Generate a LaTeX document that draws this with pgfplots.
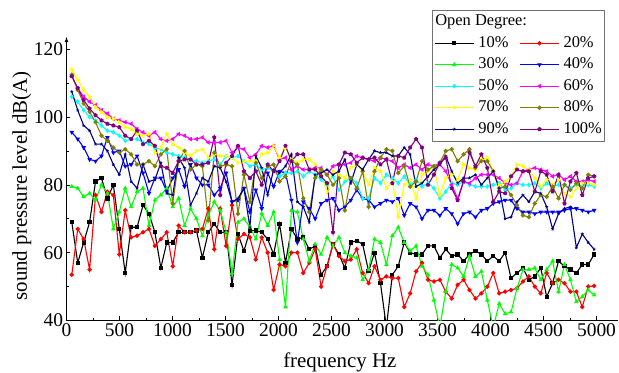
\documentclass[border=0pt]{standalone}
\usepackage{fontspec}
\setmainfont{Liberation Serif}
\usepackage{pgfplots}
\usepackage{pgfplotstable}
\pgfplotsset{compat=1.18}
\definecolor{c10}{RGB}{0,0,0}
\definecolor{c20}{RGB}{255,0,0}
\definecolor{c30}{RGB}{0,255,0}
\definecolor{c40}{RGB}{0,0,255}
\definecolor{c50}{RGB}{0,255,255}
\definecolor{c60}{RGB}{255,0,255}
\definecolor{c70}{RGB}{255,255,0}
\definecolor{c80}{RGB}{128,128,0}
\definecolor{c90}{RGB}{0,0,128}
\definecolor{c100}{RGB}{128,0,128}
\pgfplotstableread[header=false]{
f 50 106 162 218 274 330 386 442 498 554 610 666 722 778 834 890 946 1002 1058 1114 1170 1226 1282 1338 1394 1450 1506 1562 1618 1674 1730 1786 1842 1898 1954 2010 2066 2122 2178 2234 2290 2346 2402 2458 2514 2570 2626 2682 2738 2794 2850 2906 2962 3018 3074 3130 3186 3242 3298 3354 3410 3466 3522 3578 3634 3690 3746 3802 3858 3914 3970 4026 4082 4138 4194 4250 4306 4362 4418 4474 4530 4586 4642 4698 4754 4810 4866 4922 4978
s10 69 57 63 69 81 82 76 80 67 54 67.5 67.5 74 71.5 66 55.5 63 63 66 66 66 66.5 58.5 66 68.5 66 66 50.5 65.5 60.5 66.5 66.5 66 64 59.5 68.5 57 67 64 64.5 61 62 53.5 56 62.5 59.5 55.5 63 63.5 62.5 54.5 60 51 38 53.5 56 63 60 59.5 59.5 62 62 58.5 61 59 59.5 57.5 59.5 60.5 59.5 57.5 59 57.5 60 52.5 54 55.5 52 53 55.5 47 51 57.5 56 55 54 56.5 56.5 59.5
s20 53.5 67 64 55 77 72 78 77 59.5 72.5 64.5 65 66 67 62 64 66 56 68 66 66 66.5 67 73 61 73 62 74 64 65.5 64.5 58 64.5 60 49 56.5 56 60 60 54 57 61 50 56 62.5 59 57.5 58 61 54 51 56 52 53 52.5 52.5 44 48 54.5 57 52 51.5 52 48.5 46.5 50.5 52 49 46.5 48 50 54 48 48.5 49 49.5 51.5 53 50 48 54 51 52 51 48.5 48.5 44 50 50.2
s30 79.5 79 76.5 77.5 75.5 80 77.5 67 72 79 73.5 78 79 68 75.5 77 79 73.5 76 68 73 70 65 71 75 72.5 66 54 69 70 67.5 64 71.5 68 72 58 44 72.5 72 64 57.5 62.5 59.5 64.5 62 64.5 60 59 58.5 52 55 64 63 56.5 65 67.5 63 60.5 62 56 53.5 46 38 48.5 56.5 55.5 53 59 53 54.5 46 38 45 42 42.5 49.5 55 55 55.5 52 55 57.5 48.5 56.5 52 45.5 47 49 47.5
s40 95.5 93.5 91 87.5 87 88.5 94 89.5 90 85.5 86 88.5 83.5 77.5 82 82 78 82 84.5 79.5 86 82 80 80 77 79 83.5 75 75.5 79 72 78.5 73 83.5 79.5 84 83.5 75.5 63 75 73 70 74.5 75.5 76 72.5 73.5 75.5 78.5 76 75.5 73.5 74.5 75.5 75 76 71 74.5 73.5 70 72.5 72.5 71 73 71.5 68.5 71.5 72 70.5 72.5 73 74.5 75 75.5 75.5 73 72 72 71.5 72 72 72 72 72.5 73 73 72.5 72 72.5
s50 106 104.5 102 100 99 97.5 96 95.5 94.5 93 93.5 93.5 92.5 92 91 90.5 89.5 89 88.5 88 87.5 87 86.5 87 87.5 86 88.5 88 88.5 87 85.5 86 84.5 85 84 82.5 83.5 83.5 84 82.5 84 83 81.5 80 82.5 78.5 81 82 80.5 76 76 82 80.5 83 82 80.5 82.5 80 81.5 79.5 80.5 79 76 78 80.5 80 81 80 79.5 79.5 79.5 80 80.5 78.5 79 80.5 80 80 80.5 79 80.5 79.5 80 80 79 80 79.5 80 79.5
s60 112 108.5 106 104.5 103.5 102 101 99.5 99 98.5 98 96.5 95.5 94.5 95.5 93.5 93 93.5 95 94.5 93.5 93.5 94 92.5 92.5 92.5 93 89.5 91 90.5 88 89 91.5 91 91.5 87.5 88 84.5 85.5 84.5 84.5 85 85 83 85.5 86 86 86.5 88.5 88 87.5 87 88 87.5 87 85 86 85 86 84.5 86 85.5 86 84 80 76 81 80.5 82 83 83 83 82 80.5 80 80.5 84 84.5 85 84.5 84 82.5 83 81.5 82.5 81 81 81.5 81
s70 114 111 108 106 103 101.5 100 99.5 98.5 97 96.5 95 94.5 95 89.5 91 95 92 91 89.5 88.5 90 90.5 88 89 88.5 88.5 88 86.5 87 87 87 89 89.5 91.5 88 91 87.5 86.5 87.5 87.5 86 83 78 84 83 82 85 86 84 80 85 84 79 81 70.5 80 81.5 76 83 84 85.5 77 82 83 81.5 86 85 84.5 87.5 88 84 80 81 82.5 86 85.5 84.5 82 79.5 81.5 80 81.5 77.5 76.5 79 80.5 80.5 80
s80 112.5 108 104 101.5 98.5 94.5 93 91 89.5 90.5 89 86 86 87 85.5 89 90.5 74.5 87 90 84.5 86 85.5 69.5 89.5 85.5 86 85.5 71.5 83 75 86.5 82 85.5 86 81 82.5 87 86 76 72 82 84.5 83 80 82 72.5 82 79 84 73.5 84 88 90.5 90 83.5 85.5 79.5 81 87 84.5 85.5 86.5 90 90.5 87 89 90.5 85 87 87 84 79 79.5 77 74 71 70.5 74.5 77 76.5 79.5 76 80 78.5 80.5 79 83 82.5
s90 107.5 102 97.5 96 92 92 90 86 83 89 81 79 86 81 81.5 86.5 77.5 77 88 85 74 77.5 82 81 85.5 85 81 75 76 79 67.5 88.5 85 77 84.5 83.5 85.5 89 75 73.5 69 83 83.5 84.5 83 84 87.5 80.5 86 84.5 87.5 90 89.5 89.5 88.5 88.5 91 89 79.5 80.5 82.5 84.5 86 88.5 84 80.5 82 82 83 80 82 84 79 70 70.5 75 77 75 78 77.5 73.5 67 71.5 73 73.5 61.5 65.5 63 61
s100 112 108.5 105 102.5 100.5 99 98 97.5 97 94.5 93.5 96 92 93 91.5 85.5 85 83.5 87 87.5 87.5 86 86 86.5 94 77 86.5 88.5 91.5 84 82 84 80 86 84 87 91.5 87 89 89 84.5 84.5 82.5 80.5 66 86 89.5 89 86.5 88 87.5 88 86 87.5 80.5 88.5 88 91 93.5 91 80 83 86.5 88 79 75.5 81 89.5 85.5 89 85 75 78 77.5 82.5 84.5 84 84 78 84 83 78 83 74.5 81 83.5 77 82 82.5
}\rawtable
\pgfplotstabletranspose[colnames from=0]\data{\rawtable}
\begin{document}
\begin{tikzpicture}
\path[use as bounding box] (-66.5bp,-52.5bp) rectangle (552.5bp,320.5bp);
\begin{axis}[
  at={(0,0)}, anchor=south west,
  scale only axis, width=551.2bp, height=283.5bp,
  xmin=0, xmax=5200, ymin=40, ymax=123.6,
  axis x line=bottom, axis y line=left,
  x axis line style={-}, y axis line style={-latex},
  axis line style={line width=0.8bp},
  tick align=inside,
  major tick length=4bp, minor tick length=2.5bp,
  every tick/.style={black, line width=0.6bp},
  xtick={0,500,...,5000}, ytick={40,60,...,120},
  minor x tick num=1, minor y tick num=1,
  /pgf/number format/1000 sep={},
  /pgf/number format/assume math mode=true,
  tick label style={font=\fontsize{19.5}{22}\selectfont},
  label style={font=\fontsize{21}{24}\selectfont},
  xlabel={frequency Hz}, ylabel={sound pressure level dB(A)},
  x label style={at={(axis description cs:0.496,-0.166)}, anchor=base},
  y label style={at={(axis description cs:-0.081,0.475)}, anchor=center},
  every axis plot/.append style={line width=1.1bp, mark size=1.6bp, mark options={solid}},
  legend columns=2,
  legend cell align=left,
  legend image code/.code={\draw[mark repeat=2,mark phase=2,#1] plot coordinates {(0bp,0bp) (19.5bp,0bp) (39bp,0bp)};},
  legend style={at={(axis description cs:0.9766,1.097)}, anchor=north east,
    draw=black!55, line width=0.8bp, inner xsep=1.5bp, inner ysep=3bp,
    font=\fontsize{16.5}{18}\selectfont,
    nodes={text height=12bp, text depth=3.5bp, inner sep=1bp},
    row sep=4bp,
    /tikz/every odd column/.append style={column sep=3bp},
    /tikz/every even column/.append style={column sep=10bp}},
]
\addlegendimage{empty legend}\addlegendentry{\makebox[0pt][l]{\hspace*{-43bp}Open Degree:}}
\addlegendimage{empty legend}\addlegendentry{}
\addplot[c10, mark=square*] table[x=f, y=s10] {\data}; \addlegendentry{10\%}
\addplot[c20, mark=*] table[x=f, y=s20] {\data}; \addlegendentry{20\%}
\addplot[c30, mark=triangle*] table[x=f, y=s30] {\data}; \addlegendentry{30\%}
\addplot[c40, mark=triangle*, mark options={rotate=180}] table[x=f, y=s40] {\data}; \addlegendentry{40\%}
\addplot[c50, mark=diamond*] table[x=f, y=s50] {\data}; \addlegendentry{50\%}
\addplot[c60, mark=triangle*, mark options={rotate=90}] table[x=f, y=s60] {\data}; \addlegendentry{60\%}
\addplot[c70, mark=triangle*, mark options={rotate=-90}] table[x=f, y=s70] {\data}; \addlegendentry{70\%}
\addplot[c80, mark=*] table[x=f, y=s80] {\data}; \addlegendentry{80\%}
\addplot[c90, mark=star, mark options={line width=0.6bp}] table[x=f, y=s90] {\data}; \addlegendentry{90\%}
\addplot[c100, mark=pentagon*] table[x=f, y=s100] {\data}; \addlegendentry{100\%}
\end{axis}
\end{tikzpicture}
\end{document}
